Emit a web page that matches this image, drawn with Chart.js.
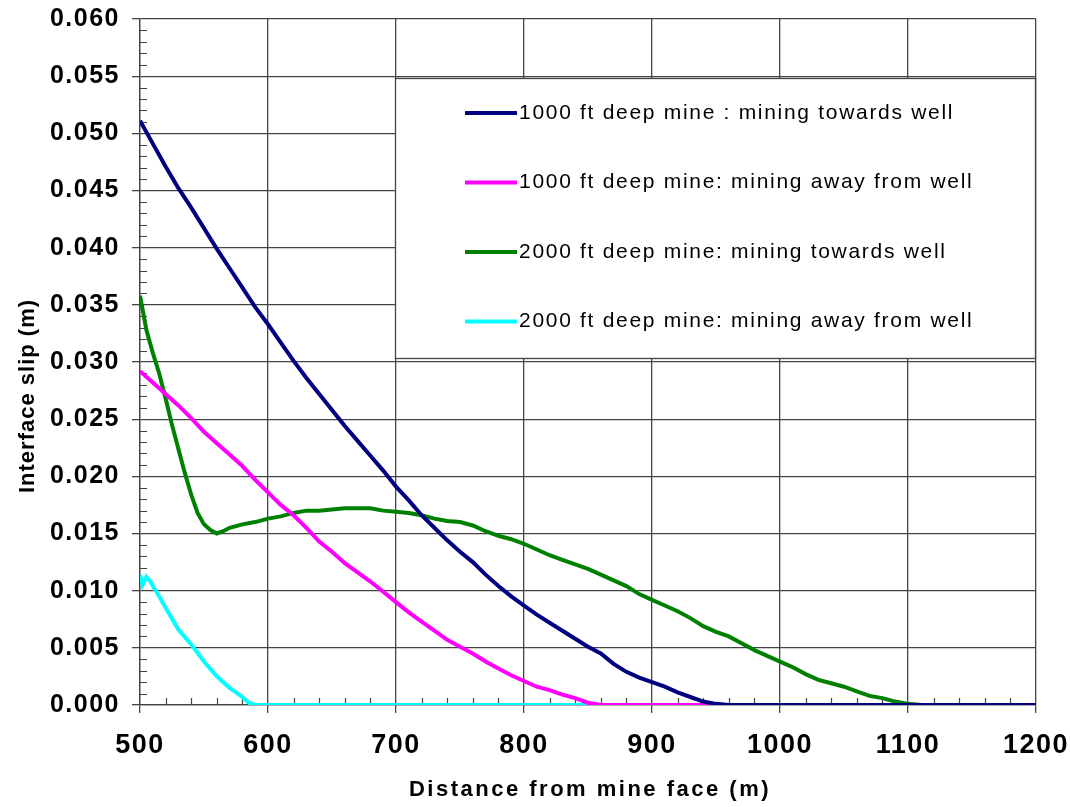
<!DOCTYPE html>
<html>
<head>
<meta charset="utf-8">
<script src="https://cdn.jsdelivr.net/npm/chart.js@4"></script>
<style>
  html, body { margin: 0; padding: 0; background: #fff; }
  #wrap { width: 1070px; height: 807px; }
</style>
</head>
<body>
<div id="wrap"><canvas id="slipChart" width="1070" height="807"></canvas></div>
<script>
// Values
const seriesLabels = [
    '1000 ft deep mine : mining towards well',
    '1000 ft deep mine: mining away from well',
    '2000 ft deep mine: mining towards well',
    '2000 ft deep mine: mining away from well'
];
const seriesColors = ['#000080', '#ff00ff', '#008000', '#00ffff'];

// 1000 ft, towards well
const dist1000T = [500, 510, 520, 530, 540, 550, 560, 570, 580, 590, 600, 610, 620, 630, 640, 650, 660, 670, 680, 690,
    700, 710, 720, 730, 740, 750, 760, 770, 780, 790, 800, 810, 820, 830, 840, 850, 860, 870, 880, 890,
    900, 910, 920, 930, 940, 950, 960, 1200];
const slip1000T = [0.0511, 0.0491, 0.0471, 0.0452, 0.0435, 0.0417, 0.0399, 0.0382, 0.0365, 0.0348, 0.0333, 0.0317, 0.0301, 0.0286, 0.0272, 0.0258, 0.0244, 0.0231, 0.0218, 0.0205,
    0.0191, 0.0179, 0.0166, 0.0155, 0.0144, 0.0134, 0.0125, 0.0114, 0.0104, 0.0095, 0.0087, 0.0079, 0.0072, 0.0065, 0.0058, 0.0051, 0.0045, 0.0036, 0.0029, 0.0024,
    0.0020, 0.0016, 0.0011, 0.0007, 0.0003, 0.0001, 0, 0];

// 1000 ft, away from well
const dist1000A = [500, 510, 520, 530, 540, 550, 560, 570, 580, 590, 600, 610, 620, 630, 640, 650, 660, 670, 680, 690,
    700, 710, 720, 730, 740, 750, 760, 770, 780, 790, 800, 810, 820, 830, 840, 850, 860, 1200];
const slip1000A = [0.0292, 0.0282, 0.0272, 0.0262, 0.0251, 0.0239, 0.0229, 0.0219, 0.0209, 0.0197, 0.0186, 0.0175, 0.0166, 0.0155, 0.0143, 0.0134, 0.0124, 0.0116, 0.0108, 0.0099,
    0.0090, 0.0081, 0.0073, 0.0065, 0.0057, 0.0051, 0.0045, 0.0038, 0.0032, 0.0026, 0.0021, 0.0016, 0.0013, 0.0009, 0.0006, 0.0002, 0, 0];

// 2000 ft, towards well
const dist2000T = [500, 505, 510, 515, 520, 525, 530, 535, 540, 545, 550, 555, 560, 565, 570, 580, 590, 600, 610, 620,
    630, 640, 650, 660, 670, 680, 690, 700, 710, 720, 730, 740, 750, 760, 770, 780, 790, 800, 810, 820,
    830, 840, 850, 860, 870, 880, 890, 900, 910, 920, 930, 940, 950, 960, 970, 980, 990, 1000, 1010, 1020,
    1030, 1040, 1050, 1060, 1070, 1080, 1090, 1100, 1110, 1200];
const slip2000T = [0.0358, 0.0328, 0.0308, 0.0290, 0.0268, 0.0245, 0.0224, 0.0203, 0.0184, 0.0168, 0.0158, 0.0153, 0.0150, 0.0152, 0.0155, 0.0158, 0.0160, 0.0163, 0.0165, 0.0168,
    0.0170, 0.0170, 0.0171, 0.0172, 0.0172, 0.0172, 0.0170, 0.0169, 0.0168, 0.0166, 0.0163, 0.0161, 0.0160, 0.0157, 0.0152, 0.0148, 0.0145, 0.0141, 0.0136, 0.0131,
    0.0127, 0.0123, 0.0119, 0.0114, 0.0109, 0.0104, 0.0097, 0.0092, 0.0087, 0.0082, 0.0076, 0.0069, 0.0064, 0.0060, 0.0054, 0.0048, 0.0043, 0.0038, 0.0033, 0.0027,
    0.0022, 0.0019, 0.0016, 0.0012, 0.0008, 0.0006, 0.0003, 0.0001, 0, 0];

// 2000 ft, away from well
const dist2000A = [500, 502, 505, 508, 515, 520, 530, 540, 550, 560, 570, 575, 580, 585, 590, 1200];
const slip2000A = [0.0114, 0.0105, 0.0112, 0.0108, 0.0095, 0.0085, 0.0066, 0.0053, 0.0038, 0.0025, 0.0015, 0.0011, 0.0007, 0.0002, 0, 0];

function toPoints(xs, ys) {
    return xs.map(function(x, i) { return { x: x, y: ys[i] }; });
}

const allDist = [dist1000T, dist1000A, dist2000T, dist2000A];
const allSlip = [slip1000T, slip1000A, slip2000T, slip2000A];

const gridColor = '#444';

// minor ticks, legend box and axis titles
const extrasPlugin = {
    id: 'extras',
    beforeDraw: function(chart) {
        chart.ctx.letterSpacing = '1.5px';
    },
    beforeDatasetsDraw: function(chart) {
        const ctx = chart.ctx;
        const xs = chart.scales.x, ys = chart.scales.y;
        ctx.save();
        ctx.strokeStyle = gridColor;
        ctx.lineWidth = 1.2;
        ctx.beginPath();
        for (let v = 1; v < 60; v++) {
            if (v % 5 === 0) continue;
            const py = Math.round(ys.getPixelForValue(v / 1000)) + 0.5;
            ctx.moveTo(xs.left, py);
            ctx.lineTo(xs.left + 7, py);
        }
        for (let v = 500; v < 1200; v += 20) {
            if (v % 100 === 0) continue;
            const px = Math.round(xs.getPixelForValue(v)) + 0.5;
            ctx.moveTo(px, ys.bottom);
            ctx.lineTo(px, ys.bottom - 7);
        }
        ctx.stroke();
        ctx.restore();
    },
    afterDatasetsDraw: function(chart) {
        const ctx = chart.ctx;
        const area = chart.chartArea;
        const boxL = area.left + 255, boxT = area.top + 59;
        const boxR = area.right, boxB = area.top + 340;
        ctx.save();
        ctx.fillStyle = '#fff';
        ctx.fillRect(boxL, boxT, boxR - boxL, boxB - boxT);
        ctx.strokeStyle = gridColor;
        ctx.lineWidth = 1.3;
        ctx.strokeRect(boxL + 0.5, boxT + 0.5, boxR - boxL - 1, boxB - boxT - 1);
        ctx.font = '21px "Liberation Sans", Arial, sans-serif';
        ctx.letterSpacing = '1.7px';
        ctx.textBaseline = 'middle';
        ctx.textAlign = 'left';
        chart.data.datasets.forEach(function(ds, i) {
            const cy = boxT + 35 + i * 69.5;
            ctx.strokeStyle = ds.borderColor;
            ctx.lineWidth = 4;
            ctx.beginPath();
            ctx.moveTo(boxL + 70, cy);
            ctx.lineTo(boxL + 122, cy);
            ctx.stroke();
            ctx.fillStyle = '#000';
            ctx.fillText(ds.label, boxL + 124, cy);
        });
        ctx.restore();
    },
    afterDraw: function(chart) {
        const ctx = chart.ctx;
        const area = chart.chartArea;
        ctx.save();
        ctx.fillStyle = '#000';
        ctx.textAlign = 'center';
        ctx.textBaseline = 'middle';
        ctx.font = 'bold 22px "Liberation Sans", Arial, sans-serif';
        ctx.letterSpacing = '2.5px';
        ctx.fillText('Distance from mine face (m)', (area.left + area.right) / 2 + 2, 790);
        ctx.letterSpacing = '1px';
        ctx.translate(28, (area.top + area.bottom) / 2 + 34);
        ctx.rotate(-Math.PI / 2);
        ctx.fillText('Interface slip (m)', 0, 0);
        ctx.restore();
    }
};

const ctx = document.getElementById('slipChart');
new Chart(ctx, {
    type: 'line',
    data: {
        datasets: seriesLabels.map(function(label, i) {
            return {
                label: label,
                data: toPoints(allDist[i], allSlip[i]),
                borderColor: seriesColors[i],
                backgroundColor: seriesColors[i],
                borderWidth: 4,
                pointRadius: 0,
                tension: 0,
                fill: false
            };
        })
    },
    options: {
        responsive: false,
        animation: false,
        devicePixelRatio: 1,
        layout: { padding: { top: 19, right: 34, left: 0, bottom: 0 } },
        plugins: {
            legend: { display: false },
            tooltip: { enabled: false },
            title: { display: false }
        },
        scales: {
            x: {
                type: 'linear',
                min: 500,
                max: 1200,
                afterFit: function(scale) {
                    scale.height = 102;
                    scale.paddingLeft = 0;
                    scale.paddingRight = 0;
                },
                ticks: {
                    stepSize: 100,
                    color: '#000',
                    padding: 16,
                    font: { family: '"Liberation Sans", Arial, sans-serif', size: 27, weight: 'bold' },
                    callback: function(v) { return String(v); }
                },
                grid: { color: gridColor, lineWidth: 1.3, tickLength: 8, drawTicks: true },
                border: { display: true, color: gridColor, width: 1.3 }
            },
            y: {
                type: 'linear',
                min: 0,
                max: 0.06,
                afterFit: function(scale) {
                    scale.width = 140;
                    scale.paddingTop = 0;
                    scale.paddingBottom = 0;
                },
                ticks: {
                    stepSize: 0.005,
                    color: '#000',
                    padding: 12,
                    font: { family: '"Liberation Sans", Arial, sans-serif', size: 25, weight: 'bold' },
                    callback: function(v) { return v.toFixed(3); }
                },
                grid: { color: gridColor, lineWidth: 1.3, tickLength: 8, drawTicks: true },
                border: { display: true, color: gridColor, width: 1.3 }
            }
        }
    },
    plugins: [extrasPlugin]
});
</script>
</body>
</html>
